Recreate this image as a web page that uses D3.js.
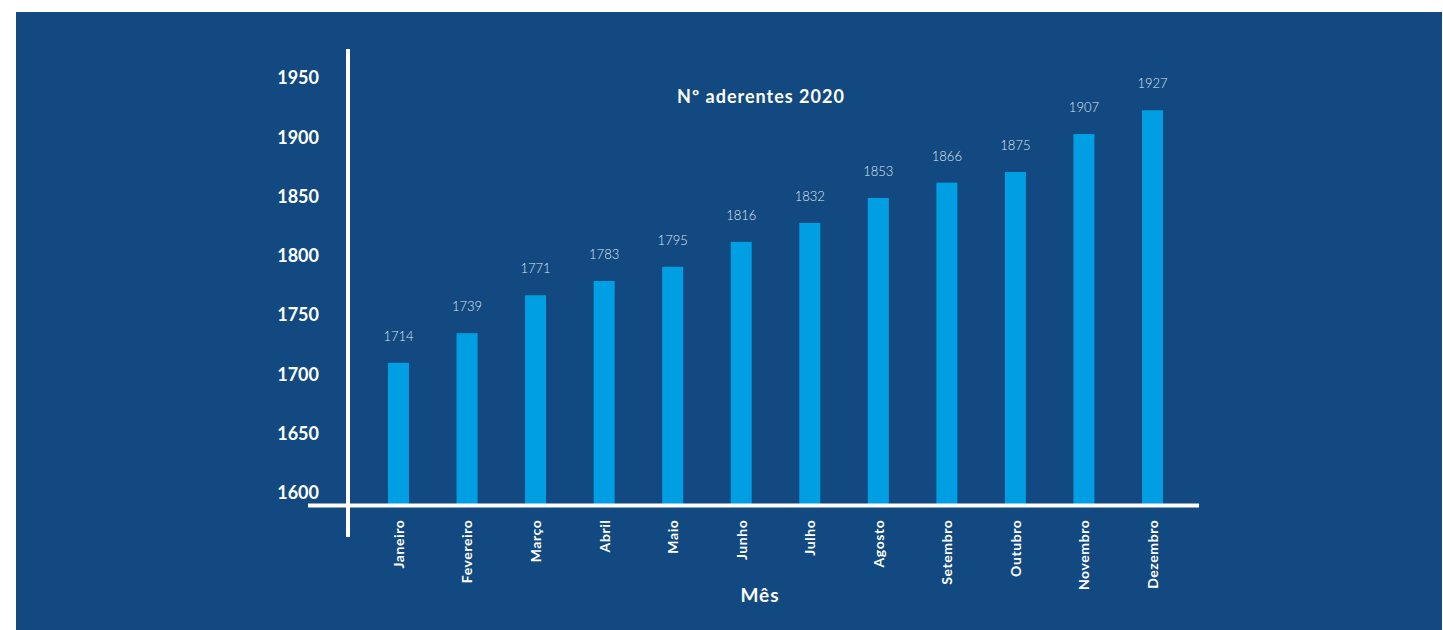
<!DOCTYPE html>
<html>
<head>
<meta charset="utf-8">
<script src="https://cdn.jsdelivr.net/npm/d3@7"></script>
<style>
  html, body { margin: 0; padding: 0; background: #ffffff; }
  svg { display: block; }
  text { font-family: "Lato", "Open Sans", sans-serif; }
</style>
</head>
<body>
<svg id="chart" width="1443" height="630"></svg>
<script>
// Monthly member counts for 2020
const months = ["Janeiro", "Fevereiro", "Março", "Abril", "Maio", "Junho",
                "Julho", "Agosto", "Setembro", "Outubro", "Novembro", "Dezembro"];
const members = [1714, 1739, 1771, 1783, 1795, 1816, 1832, 1853, 1866, 1875, 1907, 1927];
const yTicks = [1600, 1650, 1700, 1750, 1800, 1850, 1900, 1950];
const titleText = "Nº aderentes 2020";
const xTitle = "Mês";

const svg = d3.select("#chart");
const W = 1443, H = 630;

// dark blue panel
svg.append("rect")
  .attr("x", 16).attr("y", 12)
  .attr("width", W - 17).attr("height", H - 12)
  .attr("fill", "#124981");

const x = d3.scalePoint().domain(months).range([398.5, 1152.5]);
const y = d3.scaleLinear().domain([1600, 1950]).range([498, 83]);
const baseY = 505.5;
const barW = 21;

// bars
svg.append("g").selectAll("rect")
  .data(months)
  .join("rect")
  .attr("x", d => x(d) - barW / 2)
  .attr("y", (d, i) => y(members[i]))
  .attr("width", barW)
  .attr("height", (d, i) => baseY - y(members[i]))
  .attr("fill", "#009fe3");

// value labels
svg.append("g").selectAll("text")
  .data(months)
  .join("text")
  .attr("x", d => x(d))
  .attr("y", (d, i) => y(members[i]) - 22)
  .attr("text-anchor", "middle")
  .attr("fill", "#dfe6ef")
  .attr("font-size", 13)
  .attr("font-weight", 300)
  .text((d, i) => members[i]);

// y axis labels (no tick marks)
const yAxis = d3.axisLeft(y).tickValues(yTicks).tickSize(0).tickPadding(0).tickFormat(d3.format("d"));
const gy = svg.append("g").attr("transform", "translate(319,-5)").call(yAxis);
gy.select(".domain").remove();
gy.selectAll("text")
  .attr("fill", "#ffffff")
  .attr("font-size", 18)
  .attr("font-weight", 700)
  .attr("font-family", "Lato, 'Open Sans', sans-serif");

// x axis labels, rotated
const xAxis = d3.axisBottom(x).tickSize(0).tickPadding(0);
const gx = svg.append("g").attr("transform", `translate(0,${baseY})`).call(xAxis);
gx.select(".domain").remove();
gx.selectAll("text")
  .attr("transform", "rotate(-90)")
  .attr("x", -14).attr("y", 0).attr("dy", "0.35em")
  .attr("text-anchor", "end")
  .attr("fill", "#ffffff")
  .attr("font-size", 14)
  .attr("font-weight", 700)
  .attr("letter-spacing", 0.6)
  .attr("font-family", "Lato, 'Open Sans', sans-serif");

// axis lines
svg.append("line")
  .attr("x1", 308).attr("x2", 1199)
  .attr("y1", baseY).attr("y2", baseY)
  .attr("stroke", "#ffffff").attr("stroke-width", 4);
svg.append("line")
  .attr("x1", 348).attr("x2", 348)
  .attr("y1", 49).attr("y2", 537)
  .attr("stroke", "#ffffff").attr("stroke-width", 4);

// titles
svg.append("text")
  .attr("x", 761).attr("y", 103)
  .attr("text-anchor", "middle")
  .attr("fill", "#ffffff")
  .attr("font-size", 18)
  .attr("font-weight", 700)
  .attr("letter-spacing", 1)
  .text(titleText);

svg.append("text")
  .attr("x", 760).attr("y", 602)
  .attr("text-anchor", "middle")
  .attr("fill", "#ffffff")
  .attr("font-size", 19)
  .attr("font-weight", 700)
  .attr("letter-spacing", 1)
  .text(xTitle);
</script>
</body>
</html>
